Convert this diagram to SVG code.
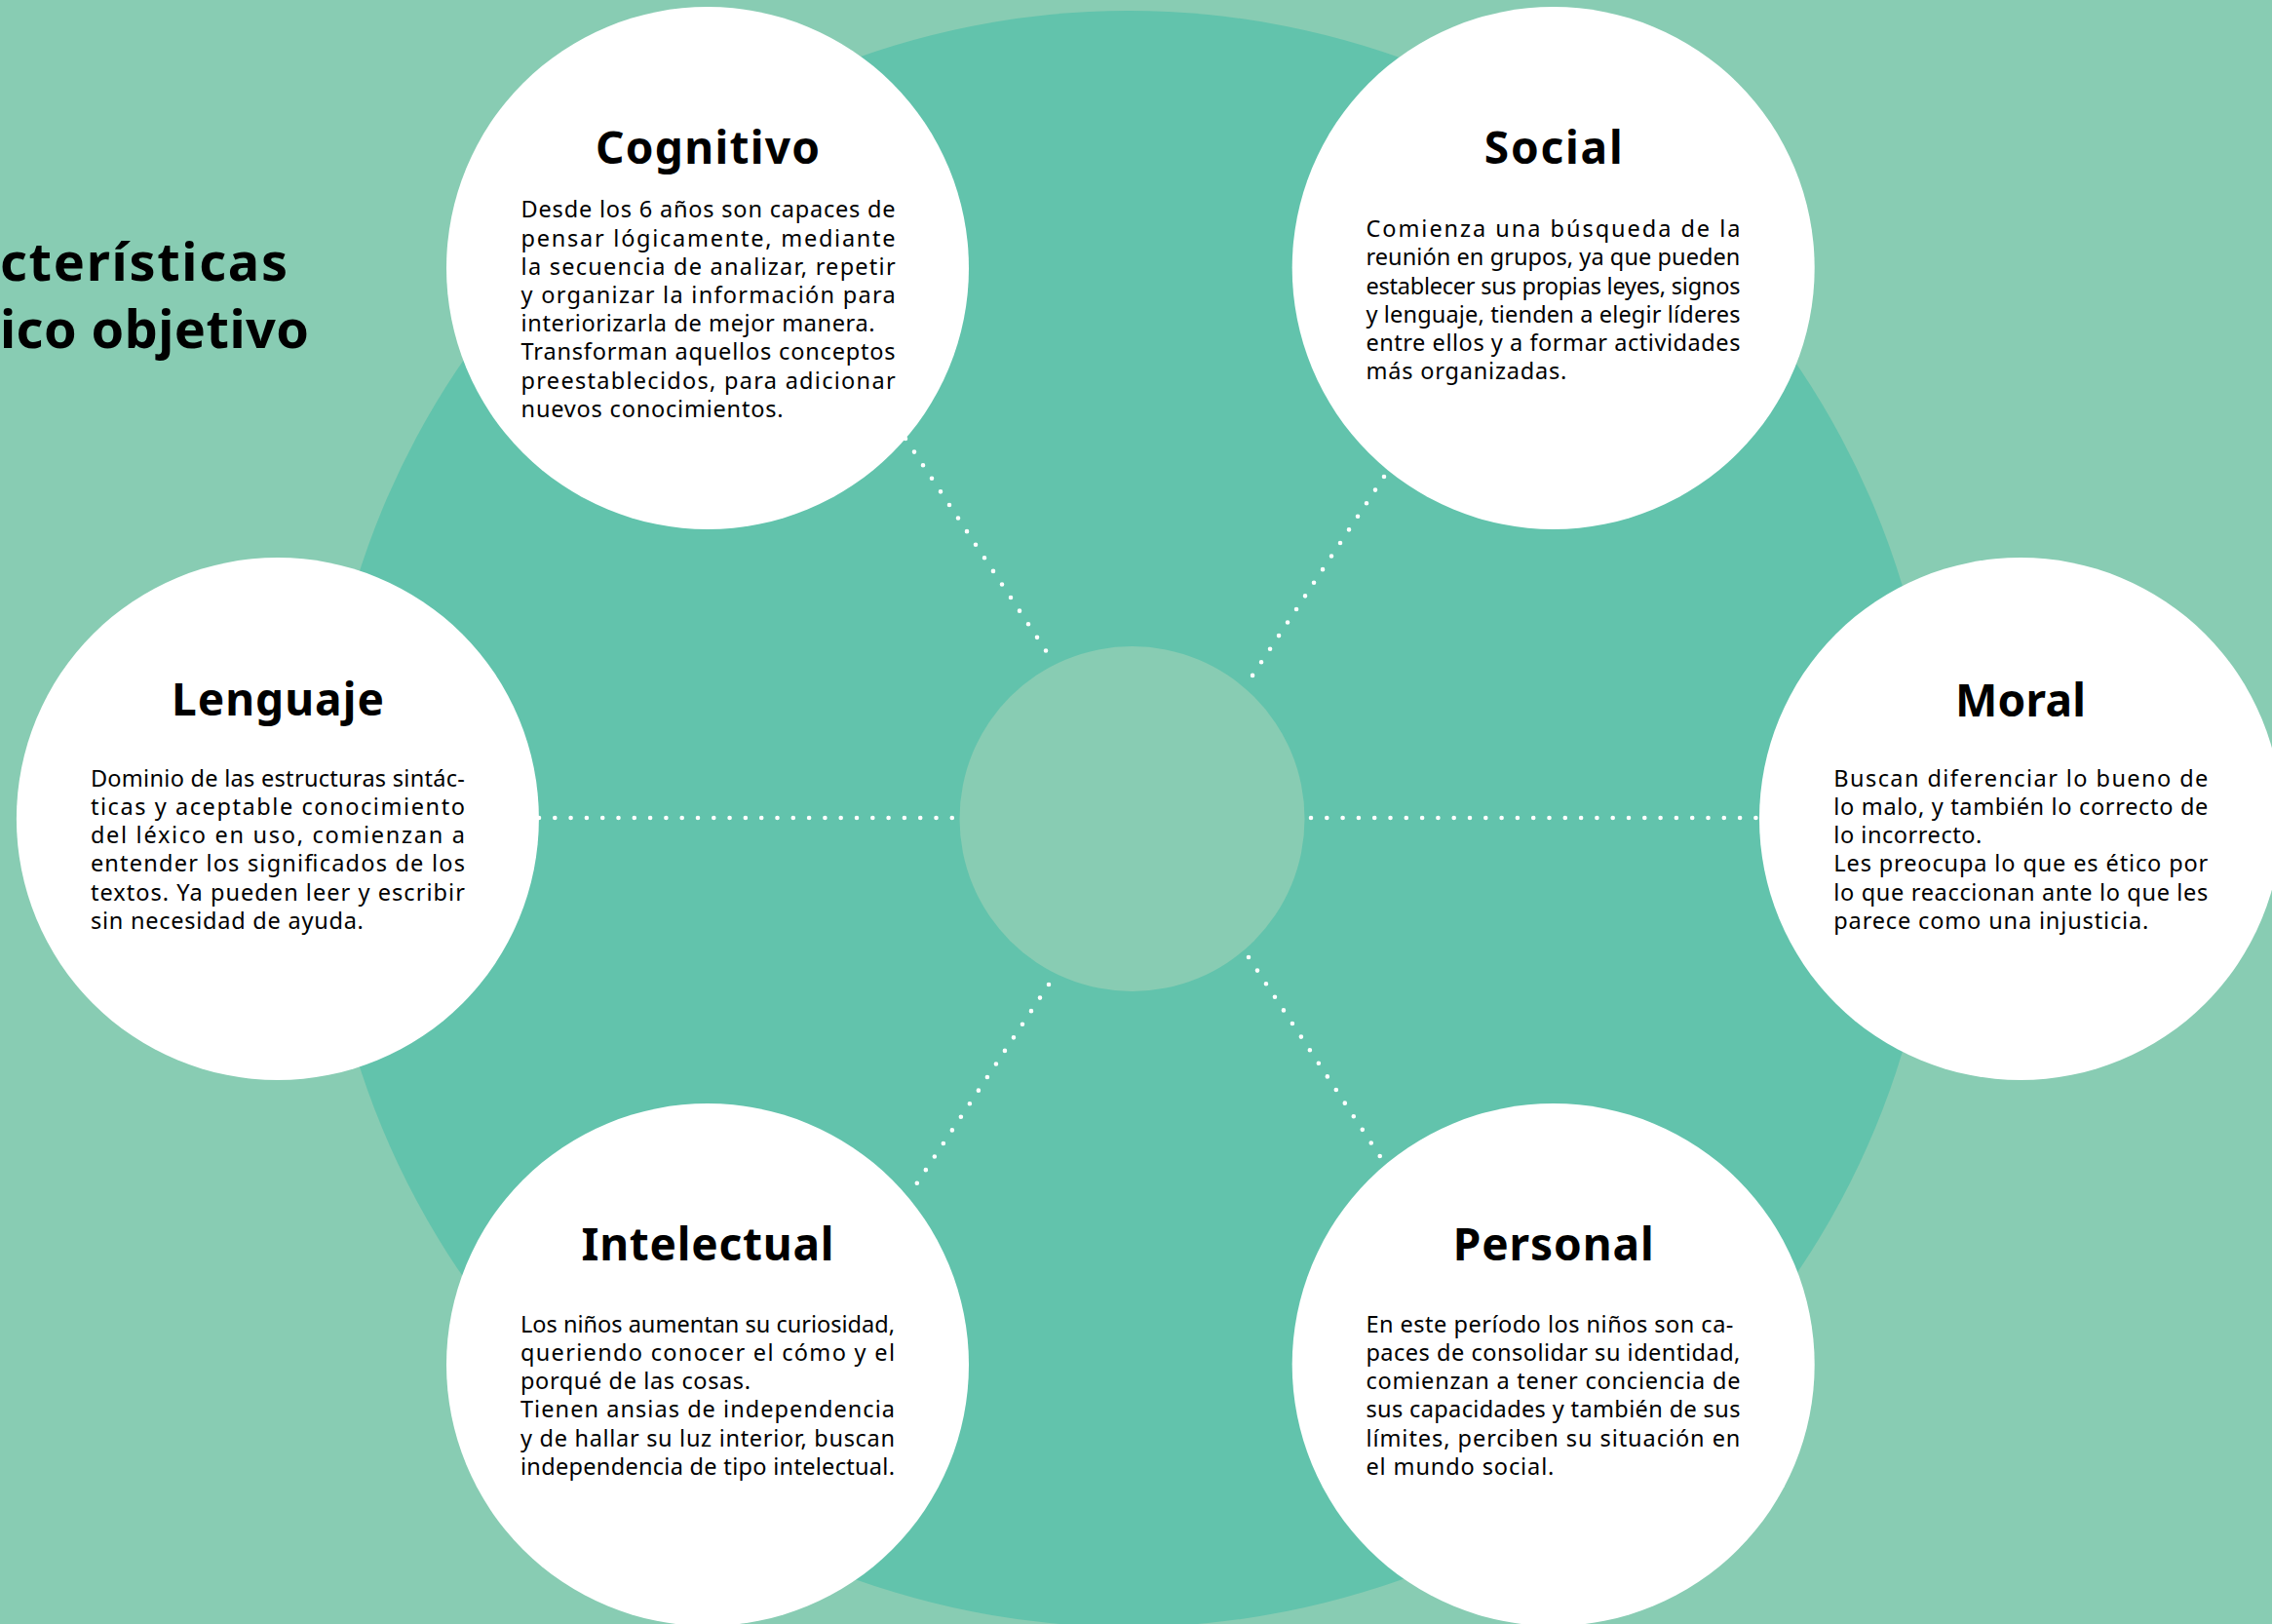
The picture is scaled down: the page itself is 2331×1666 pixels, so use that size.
<svg xmlns="http://www.w3.org/2000/svg" width="2331" height="1666" viewBox="0 0 2331 1666">
<style>
.bg{fill:#88ccb3}
.big{fill:#62c3ac}
.hub{fill:#88ccb3}
.node circle{fill:#ffffff}
.title{font-family:"Noto Sans","Open Sans",sans-serif;font-weight:700;font-size:46px;fill:#000;text-anchor:middle}
.head{font-family:"Noto Sans","Open Sans",sans-serif;font-weight:700;font-size:54px;fill:#000}
.body{font-family:"Noto Sans","Open Sans",sans-serif;font-size:23.5px;fill:#000}
.conn line{stroke:#ffffff;stroke-width:4.6;stroke-linecap:round;stroke-dasharray:0 16.3;fill:none}
</style>
<rect class="bg" x="0" y="0" width="2331" height="1666"/>
<circle class="big" cx="1158" cy="840" r="829"/>
<g id="heading">
<text class="head" x="0" y="288" textLength="295" lengthAdjust="spacing">cterísticas</text>
<text class="head" x="0" y="357" textLength="317" lengthAdjust="spacing">ico objetivo</text>
</g>
<g id="connectors" class="conn">
<line x1="553" y1="839" x2="980" y2="839"/>
<line x1="1345" y1="839" x2="1805" y2="839"/>
<line x1="929" y1="450" x2="1082" y2="681"/>
<line x1="1420" y1="489" x2="1283" y2="696"/>
<line x1="1076" y1="1010" x2="932" y2="1227"/>
<line x1="1281" y1="982" x2="1419" y2="1191"/>
</g>
<g id="center">
<circle class="hub" cx="1161.5" cy="840" r="177"/>
</g>
<g id="cognitivo" class="node">
<circle cx="726" cy="275" r="268"/>
<text class="title" x="726" y="168" textLength="230" lengthAdjust="spacing">Cognitivo</text>
<text class="body" x="534.6" y="223.3" textLength="384" lengthAdjust="spacing">Desde los 6 años son capaces de</text>
<text class="body" x="534.6" y="252.5" textLength="384" lengthAdjust="spacing">pensar lógicamente, mediante</text>
<text class="body" x="534.6" y="281.7" textLength="384" lengthAdjust="spacing">la secuencia de analizar, repetir</text>
<text class="body" x="534.6" y="310.9" textLength="384" lengthAdjust="spacing">y organizar la información para</text>
<text class="body" x="534.6" y="340.1" textLength="363" lengthAdjust="spacing">interiorizarla de mejor manera.</text>
<text class="body" x="534.6" y="369.3" textLength="384" lengthAdjust="spacing">Transforman aquellos conceptos</text>
<text class="body" x="534.6" y="398.5" textLength="384" lengthAdjust="spacing">preestablecidos, para adicionar</text>
<text class="body" x="534.6" y="427.7" textLength="269" lengthAdjust="spacing">nuevos conocimientos.</text>
</g>
<g id="social" class="node">
<circle cx="1593.7" cy="275" r="268"/>
<text class="title" x="1593.7" y="168" textLength="142" lengthAdjust="spacing">Social</text>
<text class="body" x="1401.4" y="243.3" textLength="384" lengthAdjust="spacing">Comienza una búsqueda de la</text>
<text class="body" x="1401.4" y="272.4" textLength="384" lengthAdjust="spacing">reunión en grupos, ya que pueden</text>
<text class="body" x="1401.4" y="301.5" textLength="384" lengthAdjust="spacing">establecer sus propias leyes, signos</text>
<text class="body" x="1401.4" y="330.6" textLength="384" lengthAdjust="spacing">y lenguaje, tienden a elegir líderes</text>
<text class="body" x="1401.4" y="359.7" textLength="384" lengthAdjust="spacing">entre ellos y a formar actividades</text>
<text class="body" x="1401.4" y="388.8" textLength="206" lengthAdjust="spacing">más organizadas.</text>
</g>
<g id="lenguaje" class="node">
<circle cx="284.9" cy="840" r="268"/>
<text class="title" x="284.9" y="734" textLength="218" lengthAdjust="spacing">Lenguaje</text>
<text class="body" x="92.9" y="806.7" textLength="384" lengthAdjust="spacing">Dominio de las estructuras sintác-</text>
<text class="body" x="92.9" y="835.9" textLength="384" lengthAdjust="spacing">ticas y aceptable conocimiento</text>
<text class="body" x="92.9" y="865.1" textLength="384" lengthAdjust="spacing">del léxico en uso, comienzan a</text>
<text class="body" x="92.9" y="894.3" textLength="384" lengthAdjust="spacing">entender los significados de los</text>
<text class="body" x="92.9" y="923.5" textLength="384" lengthAdjust="spacing">textos. Ya pueden leer y escribir</text>
<text class="body" x="92.9" y="952.7" textLength="280" lengthAdjust="spacing">sin necesidad de ayuda.</text>
</g>
<g id="moral" class="node">
<circle cx="2073" cy="840" r="268"/>
<text class="title" x="2073" y="735" textLength="134" lengthAdjust="spacing">Moral</text>
<text class="body" x="1881.3" y="806.7" textLength="384" lengthAdjust="spacing">Buscan diferenciar lo bueno de</text>
<text class="body" x="1881.3" y="835.9" textLength="384" lengthAdjust="spacing">lo malo, y también lo correcto de</text>
<text class="body" x="1881.3" y="865.1" textLength="152" lengthAdjust="spacing">lo incorrecto.</text>
<text class="body" x="1881.3" y="894.3" textLength="384" lengthAdjust="spacing">Les preocupa lo que es ético por</text>
<text class="body" x="1881.3" y="923.5" textLength="384" lengthAdjust="spacing">lo que reaccionan ante lo que les</text>
<text class="body" x="1881.3" y="952.7" textLength="323" lengthAdjust="spacing">parece como una injusticia.</text>
</g>
<g id="intelectual" class="node">
<circle cx="726" cy="1400" r="268"/>
<text class="title" x="726" y="1293.3" textLength="259" lengthAdjust="spacing">Intelectual</text>
<text class="body" x="534" y="1366.7" textLength="384" lengthAdjust="spacing">Los niños aumentan su curiosidad,</text>
<text class="body" x="534" y="1395.9" textLength="384" lengthAdjust="spacing">queriendo conocer el cómo y el</text>
<text class="body" x="534" y="1425.1" textLength="236" lengthAdjust="spacing">porqué de las cosas.</text>
<text class="body" x="534" y="1454.3" textLength="384" lengthAdjust="spacing">Tienen ansias de independencia</text>
<text class="body" x="534" y="1483.5" textLength="384" lengthAdjust="spacing">y de hallar su luz interior, buscan</text>
<text class="body" x="534" y="1512.7" textLength="384" lengthAdjust="spacing">independencia de tipo intelectual.</text>
</g>
<g id="personal" class="node">
<circle cx="1593.7" cy="1400" r="268"/>
<text class="title" x="1593.7" y="1293.3" textLength="206" lengthAdjust="spacing">Personal</text>
<text class="body" x="1401.4" y="1366.7" textLength="377" lengthAdjust="spacing">En este período los niños son ca-</text>
<text class="body" x="1401.4" y="1395.9" textLength="384" lengthAdjust="spacing">paces de consolidar su identidad,</text>
<text class="body" x="1401.4" y="1425.1" textLength="384" lengthAdjust="spacing">comienzan a tener conciencia de</text>
<text class="body" x="1401.4" y="1454.3" textLength="384" lengthAdjust="spacing">sus capacidades y también de sus</text>
<text class="body" x="1401.4" y="1483.5" textLength="384" lengthAdjust="spacing">límites, perciben su situación en</text>
<text class="body" x="1401.4" y="1512.7" textLength="193" lengthAdjust="spacing">el mundo social.</text>
</g>
</svg>
